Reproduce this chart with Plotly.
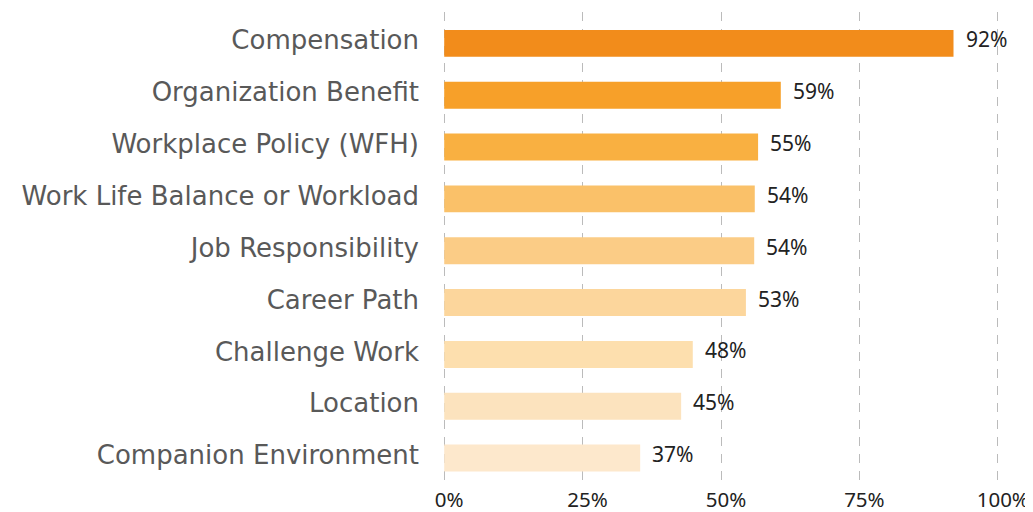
import plotly.graph_objects as go

categories = ["Compensation", "Organization Benefit", "Workplace Policy (WFH)",
              "Work Life Balance or Workload", "Job Responsibility", "Career Path",
              "Challenge Work", "Location", "Companion Environment"]
bar_values = [0.920, 0.608, 0.567, 0.561, 0.560, 0.545, 0.449, 0.428, 0.354]
value_labels = ["92%", "59%", "55%", "54%", "54%", "53%", "48%", "45%", "37%"]
bar_colors = ["#F28C1B", "#F7A029", "#F9B041", "#FAC169", "#FBCC86",
              "#FCD69C", "#FDDFAE", "#FCE3BE", "#FDE8CC"]
tick_vals = [0, 0.25, 0.5, 0.75, 1.0]
tick_text = ["0%", "25%", "50%", "75%", "100%"]

NUM_FONT = "Noto Sans"
CAT_FONT = "DejaVu Sans"

fig = go.Figure(go.Bar(
    x=bar_values, y=categories, orientation="h",
    marker=dict(color=bar_colors, line=dict(width=0)),
    width=0.52, hoverinfo="skip",
))

for cat, v, lab in zip(categories, bar_values, value_labels):
    fig.add_annotation(x=v, y=cat, text=lab, showarrow=False, xanchor="left",
                       yanchor="middle", xshift=10, yshift=4,
                       font=dict(family=NUM_FONT, size=21, color="#222222"))

fig.update_layout(
    width=1025, height=504,
    margin=dict(l=434, r=33, t=4, b=28, autoexpand=False),
    paper_bgcolor="white", plot_bgcolor="white",
    showlegend=False,
    font=dict(family=NUM_FONT),
    xaxis=dict(range=[-0.004, 1.004], tickvals=tick_vals, ticktext=tick_text,
               showgrid=True, gridcolor="#BBBBBB", griddash="9px,8px", gridwidth=1,
               zeroline=False, showline=False, ticks="", automargin=False,
               tickfont=dict(family=NUM_FONT, size=20.5, color="#222222"),
               ticklabelshift=5, ticklabelstandoff=1, ticklabeloverflow="allow"),
    yaxis=dict(type="category", categoryorder="array", categoryarray=categories,
               range=[8.5, -0.605], showgrid=False, zeroline=False, showline=False,
               ticks="", automargin=False,
               tickfont=dict(family=CAT_FONT, size=26, color="#595959"),
               ticklabelstandoff=22, ticklabelshift=3),
)

fig.write_html("out.html")
